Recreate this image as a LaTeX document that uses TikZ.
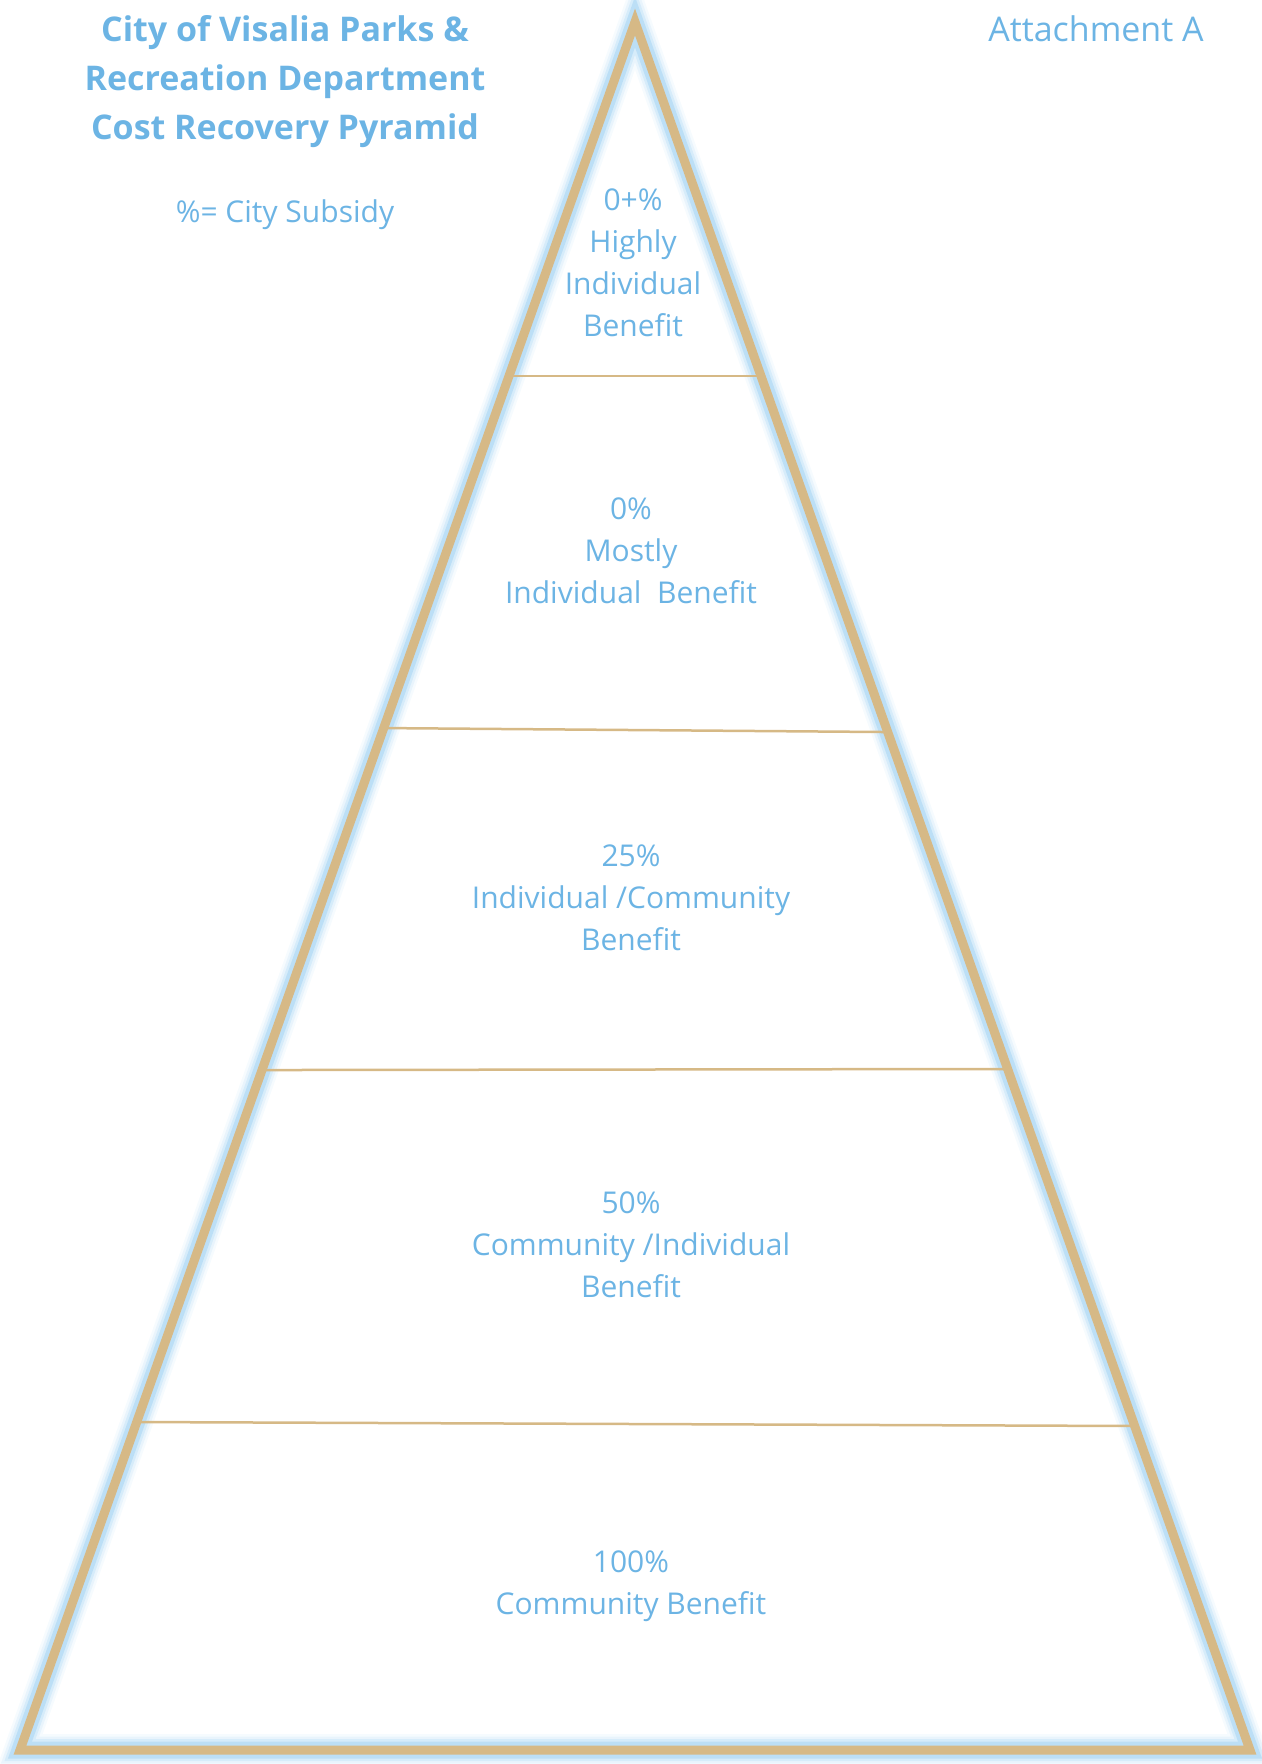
\documentclass[tikz,border=0pt]{standalone}
\usepackage{fontspec}
\setmainfont{Open Sans}
\usetikzlibrary{calc}
\definecolor{txtblue}{RGB}{108,180,228}
\definecolor{tanline}{RGB}{214,185,134}
\definecolor{glowblue}{RGB}{140,200,240}
\begin{document}
\begin{tikzpicture}[x=1pt,y=-1pt,
  lbl/.style={text=txtblue, font=\fontsize{30}{42}\selectfont, align=center, inner sep=0pt},
  ttl/.style={text=txtblue, font=\fontsize{34}{49}\selectfont\bfseries, align=center, inner sep=0pt},
  divider/.style={draw=tanline, line width=2.5},
  pyr/.style={draw=tanline, line width=9, line join=miter},
  glowline/.style={draw=glowblue, line join=miter}]
\useasboundingbox (0,0) rectangle (1261,1764);
\coordinate (A) at (635,22);
\coordinate (L) at (20,1750);
\coordinate (R) at (1250,1750);
% glow
\foreach \w/\o in {32/0.08, 27/0.12, 22/0.2, 17/0.35}
  \draw[glowline, line width=\w, opacity=\o] (A)--(L)--(R)--cycle;
% dividers
\coordinate (l1) at ($(A)!0.2049!(L)$); \coordinate (r1) at ($(A)!0.2049!(R)$);
\coordinate (l2) at ($(A)!0.4086!(L)$); \coordinate (r2) at ($(A)!0.4109!(R)$);
\coordinate (l3) at ($(A)!0.6065!(L)$); \coordinate (r3) at ($(A)!0.6059!(R)$);
\coordinate (l4) at ($(A)!0.8102!(L)$); \coordinate (r4) at ($(A)!0.8125!(R)$);
\draw[divider] (l1) -- (r1);
\draw[divider] (l2) -- (r2);
\draw[divider] (l3) -- (r3);
\draw[divider] (l4) -- (r4);
% pyramid
\draw[pyr] (A)--(L)--(R)--cycle;
% tier labels
\node[lbl] (t1) at (633,263) {0+\%\\Highly\\Individual\\Benefit};
\node[lbl] (t2) at (631,551) {0\%\\Mostly\\Individual\ \ Benefit};
\node[lbl] (t3) at (631,898) {25\%\\Individual /Community\\Benefit};
\node[lbl] (t4) at (631,1245) {50\%\\Community /Individual\\Benefit};
\node[lbl] (t5) at (631,1586) {100\%\\Community Benefit};
% title etc
\node[ttl] (title) at (285,82) {City of Visalia Parks \&\\Recreation Department\\Cost Recovery Pyramid};
\node[lbl] (sub) at (285,215) {\%= City Subsidy};
\node[lbl, font=\fontsize{34}{40}\selectfont] (att) at (1096,29) {Attachment A};
\end{tikzpicture}
\end{document}
